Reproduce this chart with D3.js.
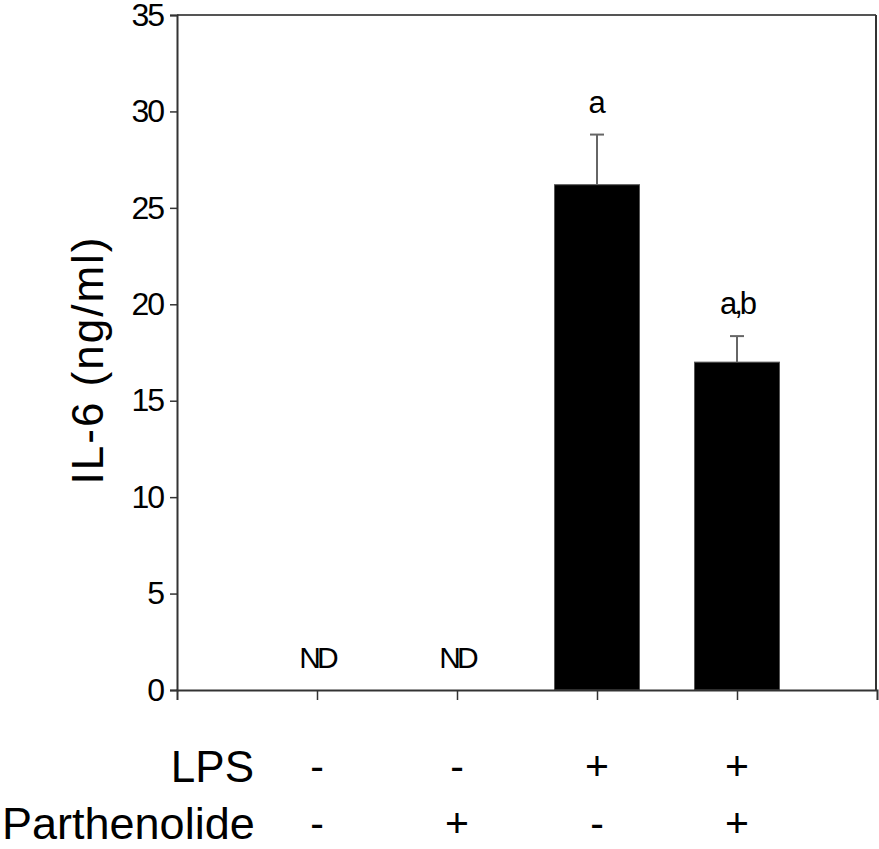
<!DOCTYPE html>
<html>
<head>
<meta charset="utf-8">
<script src="https://cdn.jsdelivr.net/npm/d3@7"></script>
<style>
  html, body { margin: 0; padding: 0; background: #fff; }
  svg { display: block; font-family: "Liberation Sans", Arial, sans-serif; }
</style>
</head>
<body>
<svg id="chart" width="879" height="849"></svg>
<script>
// ---- data ----
const categories = ["Control", "Parthenolide", "LPS", "LPS + Parthenolide"];
const means = [0, 0, 26.2, 17.0];
const errors = [0, 0, 2.6, 1.35];
const sigLabels = ["ND", "ND", "a", "a,b"];
const lpsSigns = ["-", "-", "+", "+"];
const parthSigns = ["-", "+", "-", "+"];
const yTicks = [0, 5, 10, 15, 20, 25, 30, 35];
const yTitle = "IL-6 (ng/ml)";
const rowTitles = ["LPS", "Parthenolide"];

// ---- layout ----
const svg = d3.select("#chart");
const mLeft = 177, mRight = 877, mTop = 15, mBottom = 690;

const x = d3.scalePoint().domain(categories).range([mLeft, mRight]).padding(1);
const y = d3.scaleLinear().domain([0, 35]).range([mBottom, mTop]);
const barW = 85;
const axisColor = "#333";

// frame (top and right)
svg.append("line").attr("x1", mLeft).attr("x2", mRight - 1).attr("y1", mTop).attr("y2", mTop)
  .attr("stroke", "#555").attr("stroke-width", 2);
svg.append("line").attr("x1", mRight - 1).attr("x2", mRight - 1).attr("y1", mTop).attr("y2", mBottom)
  .attr("stroke", axisColor).attr("stroke-width", 2);

// bars
svg.append("g").selectAll("rect").data(categories).join("rect")
  .attr("x", d => x(d) - barW / 2)
  .attr("width", barW)
  .attr("y", (d, i) => y(means[i]))
  .attr("height", (d, i) => mBottom - y(means[i]))
  .attr("fill", "#000")
  .attr("stroke", "#555")
  .attr("stroke-width", 1);

// error bars
const eb = svg.append("g");
categories.forEach((c, i) => {
  if (errors[i] <= 0) return;
  const cx = x(c);
  eb.append("line").attr("x1", cx).attr("x2", cx)
    .attr("y1", y(means[i])).attr("y2", y(means[i] + errors[i]))
    .attr("stroke", "#666").attr("stroke-width", 2);
  eb.append("line").attr("x1", cx - 7).attr("x2", cx + 7)
    .attr("y1", y(means[i] + errors[i])).attr("y2", y(means[i] + errors[i]))
    .attr("stroke", "#666").attr("stroke-width", 2);
});

// y axis
const yAxis = d3.axisLeft(y).tickValues(yTicks).tickSize(7).tickPadding(7).tickFormat(d3.format("d"));
const gy = svg.append("g").attr("transform", `translate(${mLeft},0)`).call(yAxis);
gy.select(".domain").attr("stroke", axisColor).attr("stroke-width", 2);
gy.selectAll(".tick line").attr("stroke", axisColor).attr("stroke-width", 1.5);
gy.selectAll(".tick text").attr("font-size", 32).attr("fill", "#000")
  .attr("letter-spacing", "-2px")
  .attr("font-family", "'Liberation Sans', Arial, sans-serif");

// x axis
const xAxis = d3.axisBottom(x).tickSize(10).tickFormat("");
const gx = svg.append("g").attr("transform", `translate(0,${mBottom})`).call(xAxis);
gx.select(".domain").attr("stroke", axisColor).attr("stroke-width", 2);
gx.selectAll(".tick line").attr("stroke", axisColor).attr("stroke-width", 1.5);

// significance labels
svg.append("g").selectAll("text").data(categories).join("text")
  .attr("x", d => x(d))
  .attr("y", (d, i) => y(means[i] + errors[i]) - 22)
  .attr("text-anchor", "middle")
  .attr("font-size", (d, i) => sigLabels[i] === "ND" ? 30 : 31)
  .attr("letter-spacing", (d, i) => sigLabels[i] === "ND" ? "-4px" : (sigLabels[i].length > 1 ? "-3px" : "0px"))
  .attr("fill", "#000")
  .text((d, i) => sigLabels[i]);

// y title
svg.append("text")
  .attr("transform", "translate(103,360) rotate(-90)")
  .attr("text-anchor", "middle")
  .attr("font-size", 44)
  .attr("letter-spacing", "2px")
  .attr("fill", "#000")
  .text(yTitle);

// treatment rows
const rows = [lpsSigns, parthSigns];
const rowY = [782, 839];
rows.forEach((signs, r) => {
  svg.append("text")
    .attr("x", r === 0 ? 254 : 2)
    .attr("y", rowY[r])
    .attr("text-anchor", r === 0 ? "end" : "start")
    .attr("font-size", r === 0 ? 44 : 45)
    .attr("fill", "#000")
    .text(rowTitles[r]);
  svg.append("g").selectAll("text").data(categories).join("text")
    .attr("x", d => x(d))
    .attr("y", rowY[r] - 2)
    .attr("text-anchor", "middle")
    .attr("font-size", 41)
    .attr("fill", "#000")
    .text((d, i) => signs[i]);
});
</script>
</body>
</html>
